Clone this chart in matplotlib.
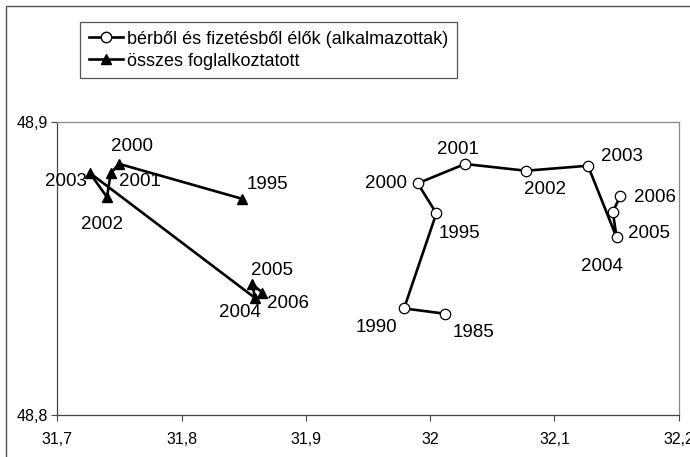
import matplotlib
matplotlib.use('Agg')
import matplotlib.pyplot as plt
from matplotlib.lines import Line2D
from matplotlib.patches import Rectangle

plt.rcParams['font.family'] = ['Liberation Sans', 'DejaVu Sans']

# bérből és fizetésből élők (alkalmazottak)
emp_years = ['1985', '1990', '1995', '2000', '2001', '2002', '2003', '2004', '2005', '2006']
emp_x = [32.012, 31.979, 32.005, 31.990, 32.028, 32.077, 32.127, 32.150, 32.147, 32.153]
emp_y = [48.8346, 48.8364, 48.8688, 48.8790, 48.8856, 48.8833, 48.8850, 48.8606, 48.8693, 48.8747]
# label offsets (pixels) for each year
emp_off = [(28, -19), (-28, -19), (23, -20), (-32, 0), (-7, 14), (19, -19),
           (34, 9), (-15, -29), (36, -22), (35, -2)]

# összes foglalkoztatott
tot_years = ['1995', '2000', '2001', '2002', '2003', '2004', '2005', '2006']
tot_x = [31.849, 31.750, 31.743, 31.740, 31.726, 31.859, 31.857, 31.865]
tot_y = [48.8737, 48.8856, 48.8826, 48.8743, 48.8826, 48.8400, 48.8446, 48.8418]
tot_off = [(25, 14), (13, 17), (29, -9), (-5, -27), (-24, -9), (-15, -15),
           (20, 14), (26, -11)]

legend_labels = ['bérből és fizetésből élők (alkalmazottak)', 'összes foglalkoztatott']
xticks = [31.7, 31.8, 31.9, 32.0, 32.1, 32.2]
yticks = [48.8, 48.9]


def hu_fmt(v):
    return ('%g' % v).replace('.', ',')


fig = plt.figure(figsize=(6.9, 4.57), dpi=100)
ax = fig.add_axes([57.3 / 690, 1 - 415.3 / 457, 621.4 / 690, 293.6 / 457])

ax.plot(emp_x, emp_y, color='black', lw=1.9, marker='o', ms=7.5,
        mfc='white', mec='black', mew=0.9, zorder=3)
ax.plot(tot_x, tot_y, color='black', lw=1.9, marker='^', ms=7,
        mfc='black', mec='black', zorder=3)

for xs, ys, labs, offs in [(emp_x, emp_y, emp_years, emp_off),
                           (tot_x, tot_y, tot_years, tot_off)]:
    for x, y, lab, off in zip(xs, ys, labs, offs):
        ax.annotate(lab, (x, y), xytext=off, textcoords='offset pixels',
                    ha='center', va='center', fontsize=13.5)

ax.set_xlim(31.7, 32.2)
ax.set_ylim(48.8, 48.9)
ax.set_xticks(xticks)
ax.set_xticklabels([hu_fmt(v) for v in xticks], fontsize=11.5)
ax.set_yticks(yticks)
ax.set_yticklabels([hu_fmt(v) for v in yticks], fontsize=11.5)
ax.tick_params(direction='out', length=4, width=0.8, color='#444444', pad=8)
ax.tick_params(axis='y', pad=3)

for side in ['top', 'right']:
    ax.spines[side].set_color('#8a8a8a')
    ax.spines[side].set_linewidth(0.9)
for side in ['left', 'bottom']:
    ax.spines[side].set_color('#444444')
    ax.spines[side].set_linewidth(0.9)

handles = [
    Line2D([], [], color='black', lw=1.9, marker='o', ms=7.5, mfc='white', mec='black'),
    Line2D([], [], color='black', lw=1.9, marker='^', ms=7, mfc='black'),
]
leg = fig.legend(handles, legend_labels,
                 loc='upper left', bbox_to_anchor=(80 / 690, 1 - 22 / 457),
                 fontsize=13, handlelength=1.9, handletextpad=0.25,
                 borderpad=0.48, labelspacing=0.28, borderaxespad=0,
                 fancybox=False, framealpha=1)
leg.get_frame().set_edgecolor('#555555')
leg.get_frame().set_linewidth(0.9)

# outer chart frame
fig.patches.append(Rectangle((5.5 / 690, -0.2), 1.2, 1.2 - 6 / 457,
                             transform=fig.transFigure, fill=False,
                             edgecolor='#555555', lw=1.0))

fig.savefig('out.png', dpi=100)
